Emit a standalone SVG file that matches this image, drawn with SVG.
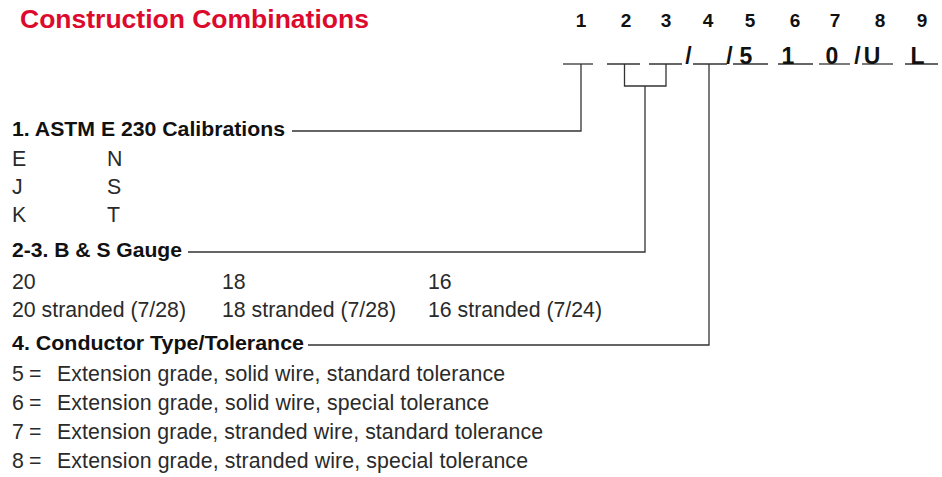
<svg xmlns="http://www.w3.org/2000/svg" width="942" height="477" viewBox="0 0 942 477">
<style>
.title{font-family:"Liberation Sans",Arial,sans-serif;font-weight:bold;font-size:26.5px;fill:#dc0a2d}
.hd{font-family:"Liberation Sans",Arial,sans-serif;font-weight:bold;font-size:19px;fill:#111;text-anchor:middle}
.code{font-family:"Liberation Sans",Arial,sans-serif;font-weight:bold;font-size:23px;fill:#111;text-anchor:middle}
.lbl{font-family:"Liberation Sans",Arial,sans-serif;font-weight:bold;font-size:20.5px;fill:#111}
.txt{font-family:"Liberation Sans",Arial,sans-serif;font-size:21.3px;fill:#2a2a2a}
.ln{stroke:#333;stroke-width:1.3;fill:none}
</style>
<rect width="942" height="477" fill="#fff"/>
<g id="title"><text class="title" x="20" y="28">Construction Combinations</text></g>
<g id="header">
<text class="hd" x="581" y="27">1</text>
<text class="hd" x="626" y="27">2</text>
<text class="hd" x="666" y="27">3</text>
<text class="hd" x="708" y="27">4</text>
<text class="hd" x="750" y="27">5</text>
<text class="hd" x="795" y="27">6</text>
<text class="hd" x="835" y="27">7</text>
<text class="hd" x="880" y="27">8</text>
<text class="hd" x="922" y="27">9</text>
</g>
<g id="code">
<line class="ln" x1="563" y1="64" x2="593" y2="64"/>
<line class="ln" x1="607" y1="64" x2="640" y2="64"/>
<line class="ln" x1="649" y1="64" x2="682" y2="64"/>
<line class="ln" x1="693" y1="64" x2="727" y2="64"/>
<line class="ln" x1="733" y1="64" x2="768" y2="64"/>
<line class="ln" x1="778" y1="64" x2="813" y2="64"/>
<line class="ln" x1="819" y1="64" x2="850" y2="64"/>
<line class="ln" x1="862" y1="64" x2="893" y2="64"/>
<line class="ln" x1="905" y1="64" x2="938" y2="64"/>
<text class="code" x="688.5" y="63.5">/</text>
<text class="code" x="729.5" y="63.5">/</text>
<text class="code" x="746" y="63.5">5</text>
<text class="code" x="788" y="63.5">1</text>
<text class="code" x="832" y="63.5">0</text>
<text class="code" x="857.5" y="63.5">/</text>
<text class="code" x="872" y="63.5">U</text>
<text class="code" x="917.5" y="63.5">L</text>
</g>
<g id="connectors">
<polyline class="ln" points="581,64 581,131 292,131"/>
<polyline class="ln" points="624.5,64 624.5,86 666,86 666,64"/>
<polyline class="ln" points="645,86 645,252 188,252"/>
<polyline class="ln" points="709,64 709,345 308,345"/>
</g>
<g id="calibrations">
<text class="lbl" x="12" y="136" textLength="273" lengthAdjust="spacingAndGlyphs">1. ASTM E 230 Calibrations</text>
<text class="txt" x="12" y="166">E</text><text class="txt" x="107" y="166">N</text>
<text class="txt" x="12" y="194">J</text><text class="txt" x="107" y="194">S</text>
<text class="txt" x="12" y="222">K</text><text class="txt" x="107" y="222">T</text>
</g>
<g id="gauge">
<text class="lbl" x="12" y="257" textLength="170" lengthAdjust="spacingAndGlyphs">2-3. B &amp; S Gauge</text>
<text class="txt" x="12" y="289">20</text>
<text class="txt" x="222" y="289">18</text>
<text class="txt" x="428" y="289">16</text>
<text class="txt" x="12" y="317">20 stranded (7/28)</text>
<text class="txt" x="222" y="317">18 stranded (7/28)</text>
<text class="txt" x="428" y="317">16 stranded (7/24)</text>
</g>
<g id="conductor">
<text class="lbl" x="12" y="350" textLength="292" lengthAdjust="spacingAndGlyphs">4. Conductor Type/Tolerance</text>
<text class="txt" x="12" y="381">5</text><text class="txt" x="29" y="381">=</text><text class="txt" x="57" y="381" textLength="448">Extension grade, solid wire, standard tolerance</text>
<text class="txt" x="12" y="410">6</text><text class="txt" x="29" y="410">=</text><text class="txt" x="57" y="410" textLength="432">Extension grade, solid wire, special tolerance</text>
<text class="txt" x="12" y="439">7</text><text class="txt" x="29" y="439">=</text><text class="txt" x="57" y="439" textLength="486">Extension grade, stranded wire, standard tolerance</text>
<text class="txt" x="12" y="468">8</text><text class="txt" x="29" y="468">=</text><text class="txt" x="57" y="468" textLength="471">Extension grade, stranded wire, special tolerance</text>
</g>
</svg>
